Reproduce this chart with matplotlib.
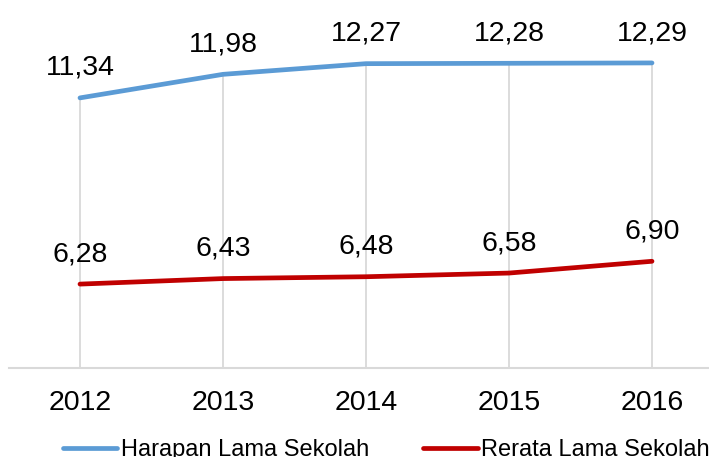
import matplotlib
matplotlib.use("Agg")
import matplotlib.pyplot as plt

years = ["2012", "2013", "2014", "2015", "2016"]
harapan = [11.34, 11.98, 12.27, 12.28, 12.29]
rerata = [6.28, 6.43, 6.48, 6.58, 6.90]
labels_h = ["11,34", "11,98", "12,27", "12,28", "12,29"]
labels_r = ["6,28", "6,43", "6,48", "6,58", "6,90"]

plt.rcParams['font.family'] = ['Liberation Sans', 'DejaVu Sans']

fig = plt.figure(figsize=(7.09, 4.57), dpi=100)
ax = fig.add_axes([8.5/709, 89/457, 715/709, 368/457])
x = list(range(len(years)))

# drop lines
ax.vlines(x, 4, harapan, color='#D9D9D9', lw=1.3, zorder=1)

ax.plot(x, harapan, color='#5B9BD5', lw=3.4, solid_capstyle='round', label='Harapan Lama Sekolah', zorder=3)
ax.plot(x, rerata, color='#C00000', lw=3.4, solid_capstyle='round', label='Rerata Lama Sekolah', zorder=3)

for xi, v, t in zip(x, harapan, labels_h):
    ax.annotate(t, (xi, v), xytext=(0, 16.5), textcoords='offset points',
                ha='center', va='baseline', fontsize=20.5, color='black')
for xi, v, t in zip(x, rerata, labels_r):
    ax.annotate(t, (xi, v), xytext=(0, 16.5), textcoords='offset points',
                ha='center', va='baseline', fontsize=20.5, color='black')

ax.set_xlim(-0.5, 4.5)
ax.set_ylim(4, 14)
ax.set_xticks(x)
ax.set_xticklabels(years, fontsize=20.5)
ax.tick_params(axis='x', length=0, pad=16)
ax.set_yticks([])
for s in ['top', 'left', 'right']:
    ax.spines[s].set_visible(False)
ax.spines['bottom'].set_color('#D9D9D9')
ax.spines['bottom'].set_linewidth(1.5)

leg = fig.legend(loc='upper left', bbox_to_anchor=(63/709, 1 - 439/457), ncol=2,
                 frameon=False, fontsize=17, handlelength=2.3, handletextpad=0.15,
                 columnspacing=2.3, borderaxespad=0, borderpad=0)

fig.savefig('out.png', dpi=100)
